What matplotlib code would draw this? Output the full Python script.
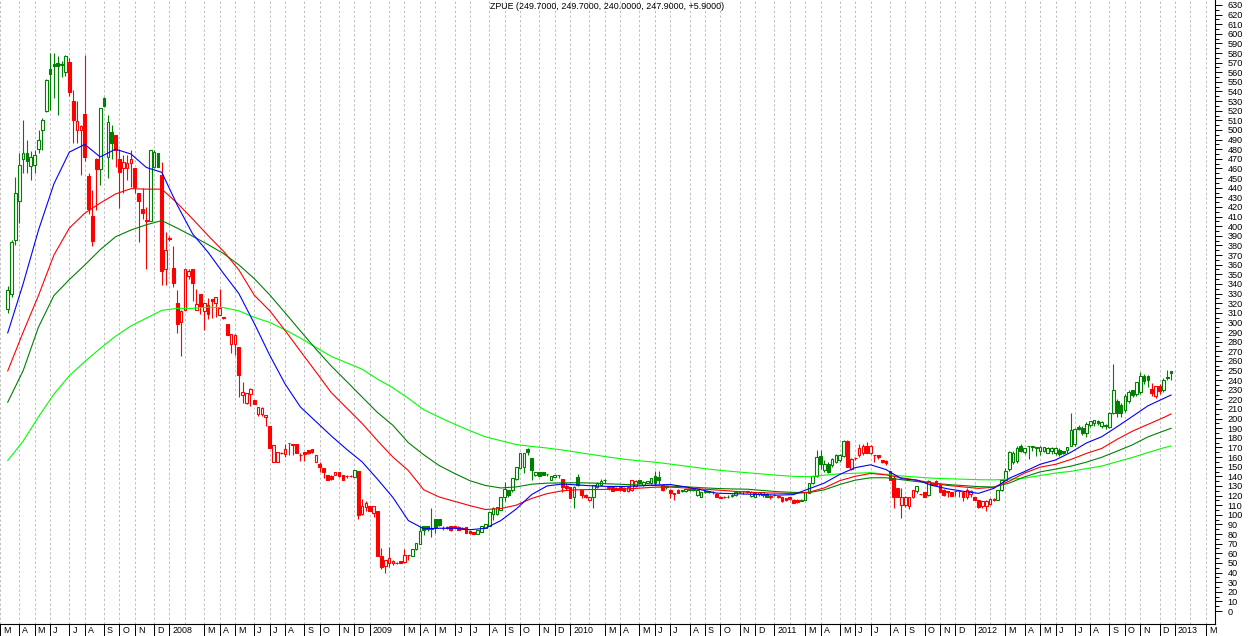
import datetime as dt
import numpy as np
import matplotlib
matplotlib.use("Agg")
import matplotlib.pyplot as plt

# weekly bars (AmiBroker style: x axis = bar number), first bar Friday 2007-03-16
first_bar = dt.date(2007, 3, 16)
ticker = "ZPUE"

opens = [314, 330, 386, 426, 470, 476, 463, 464, 480, 500, 520, 563, 569, 570, 569, 560, 571, 530, 500, 500,
         517, 452, 411, 470, 459, 533, 472, 498, 495, 470, 460, 460, 466, 460, 434, 418, 406, 405, 461, 476,
         453, 355, 388, 357, 320, 300, 313, 348, 355, 313, 330, 312, 318, 324, 320, 308, 306, 298, 278, 278,
         274, 225, 216, 226, 219, 205, 205, 202, 192, 155, 155, 164, 163, 175, 174, 174, 162, 165, 167, 168,
         155, 153, 149, 141, 140, 141, 145, 141, 140, 140, 139, 146, 101, 108, 109, 102, 104, 57, 47, 50,
         50, 50, 52, 51, 58, 57, 64, 70, 88, 88, 85, 96, 96, 86, 87, 88, 88, 87, 86, 87,
         83, 82, 80, 82, 86, 88, 101, 101, 105, 119, 126, 126, 137, 149, 150, 168, 159, 141, 145, 145,
         142, 136, 139, 141, 137, 130, 129, 119, 139, 126, 121, 115, 118, 129, 131, 136.5, 129, 129, 128, 129,
         128, 125, 126, 130, 136, 131, 133, 133, 140, 139, 131, 129, 126, 123, 126, 126, 125, 126, 127, 121,
         119, 124, 124, 124, 122, 119, 118, 119, 120, 121, 124, 125, 124, 120, 119, 122, 121, 122, 119, 121,
         120, 118, 117, 118, 115, 115, 115, 115, 123, 133, 140, 161, 147, 153, 152, 155, 157, 161, 177, 148,
         159, 162, 164, 172, 164, 162, 162, 157, 156, 146, 138, 128, 110, 110, 109, 119, 125, 122, 124, 121,
         133, 135, 131, 126, 125, 124, 125, 125, 124, 118, 122, 119, 115, 109, 109, 111, 116, 115, 126, 136,
         148, 155, 156, 172, 165, 171, 172, 170, 166, 166, 164, 166, 164, 167, 166, 167, 171, 174, 191, 190,
         185, 193, 195, 198, 192, 193, 191, 206, 218, 214, 209, 218, 230, 226, 228, 244, 244, 231, 224, 234,
         230, 243, 249.7]
highs = [338, 386, 451, 476, 510, 490, 478, 479, 500, 512, 553, 580, 580, 577, 572, 578, 575, 542, 530, 505,
         578, 455, 438, 471, 523, 534, 516, 505, 495, 480, 474, 474, 479, 460, 434, 440, 420, 479, 479, 476,
         467, 394, 390, 379, 334, 313, 355, 355, 355, 335, 330, 320, 325, 324, 326, 335, 306, 298, 288, 288,
         274, 238, 227, 232, 219, 212, 212, 204, 192, 173, 165, 165, 174, 175, 174, 174, 164, 165, 167, 168,
         162, 155, 149, 141, 141, 145, 145, 141, 141, 141, 147, 146, 116, 114, 109, 109, 104, 65, 53, 67,
         53, 51, 52, 64, 58, 64, 71, 88, 88, 88, 107, 96, 96, 88, 88, 88, 88, 88, 87, 87,
         83, 82, 84, 88, 90, 103, 108, 108, 119, 134, 126, 138, 150, 164, 164, 169, 159, 145, 145, 145,
         142, 140, 141, 141, 137, 133, 129, 130, 142, 126, 122, 119, 131, 134, 137, 137, 130, 130, 129, 129,
         129, 130, 136, 136, 136, 135, 135, 138, 146, 146, 131, 131, 127, 123, 127, 126, 127, 127, 127, 126,
         124, 126, 125, 125, 122, 120, 120, 121, 122, 124, 125, 125, 125, 125, 124, 124, 124, 123, 121, 122,
         121, 118, 117, 119, 116, 116, 116, 124, 133, 140, 167, 167, 157, 155, 159, 163, 163, 178, 178, 159,
         160, 174, 174, 176, 173, 162, 162, 157, 157, 146, 140, 128, 128, 120, 119, 126, 130, 122, 124, 136,
         133, 136, 132, 127, 125, 124, 125, 125, 124, 128, 126, 119, 115, 114, 115, 117, 117, 126, 136, 149,
         166, 166, 172, 174, 169, 171, 172, 170, 171, 170, 170, 170, 170, 169, 166, 170, 206, 190, 193, 192,
         196, 198, 199, 199, 197, 194, 207, 257, 220, 216, 226, 230, 230, 238, 248, 246, 245, 237, 234, 236,
         242, 250, 249.7]
lows = [310, 326, 380, 403, 455, 455, 448, 455, 476, 479, 519, 521, 533, 516, 555, 556, 535, 486, 486, 453,
        468, 413, 379, 417, 443, 524, 450, 470, 462, 419, 435, 448, 441, 434, 384, 407, 356, 405, 460, 462,
        339, 339, 385, 337, 289, 265, 313, 345, 322, 313, 309, 292, 304, 305, 306, 308, 304, 287, 268, 266,
        222, 216, 215, 213, 215, 203, 203, 192, 169, 155, 155, 163, 160, 162, 162, 164, 156, 156, 163, 164,
        155, 144, 138, 136, 136, 141, 139, 136, 138, 139, 139, 96, 100, 104, 104, 98, 57, 44, 40, 46,
        48, 49, 50, 50, 53, 57, 63, 70, 79, 83, 77, 81, 88, 84, 85, 83, 86, 84, 85, 81,
        80, 80, 80, 82, 86, 88, 95, 100, 105, 114, 119, 124, 136, 149, 143, 162, 136, 140, 140, 141,
        140, 136, 139, 138, 124, 126, 117, 107, 130, 117, 117, 114, 107, 128, 130, 133, 126, 125, 126, 125,
        125, 124, 125, 129, 132, 130, 133, 132, 131, 132, 125, 127, 117, 115, 123, 124, 124, 125, 125, 120,
        118, 123, 123, 122, 118, 117, 117, 117, 119, 120, 123, 122, 123, 119, 118, 120, 119, 118, 116, 120,
        117, 113, 114, 115, 112, 112, 114, 115, 123, 132, 139, 148, 145, 143, 150, 154, 155, 160, 150, 147,
        157, 160, 162, 164, 163, 155, 158, 154, 152, 136, 107, 119, 97, 108, 106, 117, 123, 121, 118, 120,
        131, 131, 124, 120, 119, 121, 120, 119, 114, 116, 119, 115, 107, 107, 104, 110, 114, 115, 125, 136,
        146, 153, 154, 165, 163, 158, 166, 161, 162, 165, 164, 163, 162, 161, 163, 164, 171, 171, 188, 183,
        181, 191, 192, 193, 190, 189, 190, 205, 202, 202, 207, 216, 222, 224, 226, 236, 233, 224, 221, 226,
        228, 240, 240]
closes = [334, 384, 434, 464, 476, 468, 472, 474, 490, 510, 552, 558, 566, 567, 568, 577, 539, 510, 509, 504,
          472, 418, 385, 459, 523, 525, 508, 486, 479, 456, 467, 466, 470, 441, 426, 414, 405, 479, 477, 462,
          353, 375, 387, 341, 298, 312, 355, 353, 341, 319, 317, 320, 309, 322, 326, 315, 305, 287, 288, 287,
          245, 228, 227, 231, 215, 212, 211, 204, 169, 173, 165, 164, 168, 175, 173, 164, 162, 163, 164, 165,
          162, 150, 145, 136, 137, 145, 140, 136, 140, 140, 147, 100, 109, 112, 104, 109, 57, 46, 53, 55,
          52, 50, 50, 58, 58, 64, 71, 83, 84, 85, 86, 87, 89, 86, 86, 84, 87, 84, 85, 81,
          81, 80, 84, 88, 90, 103, 107, 108, 119, 127, 121, 138, 150, 164, 164, 165, 147, 145, 140, 141,
          142, 140, 141, 141, 129, 128, 117, 129, 131, 121, 119, 118, 131, 133, 135, 136, 128, 125, 126, 126,
          125, 129, 136, 135, 133, 134, 135, 138, 133, 136, 126, 130, 123, 122, 123, 125, 127, 127, 126, 126,
          124, 125, 125, 124, 118, 117, 118, 118, 121, 124, 124, 124.5, 125, 124, 123, 123.5, 124, 119, 120, 120.5,
          119, 114, 115, 116, 112, 113, 114, 124, 133, 140, 160, 153, 153, 145, 158, 162, 162, 177, 150, 158,
          159, 169, 172, 164, 172, 162, 160, 155, 154, 136, 119, 119, 119, 118, 118, 125.5, 130, 121.6, 119, 135,
          131, 131, 124, 121, 124, 120, 125, 125, 119, 126, 125, 115, 108, 114, 114, 116, 115, 126, 136, 146,
          165, 164, 169, 166, 169, 171, 170, 169, 170, 170, 169, 169, 169, 163, 164, 170, 188, 189, 189.5, 185,
          194, 197, 198.5, 195, 196, 192, 206, 230, 206, 206, 224, 228, 225, 238, 244, 239, 240, 227, 234, 229,
          240, 242, 247.9]
last_change = 5.9

# candle colour as shown on the chart (G = up signal, R = down signal), one letter per bar
signal = ("GGGGGGGGGGGGGGGG" "RRRRRRRR" "GGGG" "RRRRRRRRR" "GGG"
          "RRRRRRRRRRRRRRRRRRRRRRRRRRRRRRRRRRRRRRRRRRRRRRRRRR" "G" "RRRRRRRRRRRRRR"
          "GGGGGGGG" "RRRRRRRRR" "GGGGGGGGGGGGGGGGGGGGGG" "RRR" "GG" "RRR" "GGGG"
          "RRRRRRRR" "GGGGGG" "R" "G" "RRR" "GGGGGGGG" "RRRR" "GGGGGGGGGGG" "R" "G"
          "RRRRRR" "GGGGGGGGGGGG" "RRRRRRRRRRRRRRRRRR" "G" "RR" "G" "RRRRRRRRRRRRRRRRR"
          "GGGGGGGGGGGGGGGGGGGGGGGGGGGGGGGGGGGGGGGG" "RRR" "GGG")

ma_bars = list(range(0, 301, 4)) + [302]
ma_blue = [289, 340, 396, 444, 477, 485, 472, 480, 475, 461, 456, 422, 392, 373, 351, 330, 299, 266, 236, 212,
           197, 182, 168, 155, 137, 118, 94, 85.5, 86, 86, 84.5, 86, 94, 106, 121, 130, 132, 131, 130, 129.5,
           129.5, 130, 131, 131.5, 129, 126, 122.5, 122, 121.5, 121, 120.5, 121, 127, 133, 142, 149, 152, 147, 137.5, 136,
           130.5, 127, 124.5, 122.3, 127.5, 138, 145, 152.5, 157, 165, 174.6, 181.2, 191.6, 202.4, 213.3, 220.8, 224.5]
ma_red = [249.5, 289.7, 328, 370, 398, 413.5, 424, 433.5, 439, 438.5, 438.5, 424, 407.5, 390.3, 374, 354.6, 328.3, 312.2, 291.6, 270,
          248.6, 227, 211, 195, 177, 160, 146, 126, 118.5, 114, 109.5, 105.5, 106.5, 110, 117, 122, 125, 126, 126.3, 126.4,
          126.8, 127.7, 128.7, 128.8, 127.9, 126.8, 125.8, 124.6, 123.5, 122.8, 122.5, 122, 123.5, 128, 135.5, 140, 143, 141.5, 138.5, 136,
          133, 130.5, 129, 127.5, 128.6, 135, 143.5, 149.5, 152.5, 157.5, 163.8, 169, 178.5, 187, 194, 201, 204.8]
ma_dkgreen = [217, 249.7, 295.2, 327.9, 344.5, 359.6, 375.5, 389, 396, 401.5, 405.8, 398, 389.6, 380.9, 371.6, 359.8, 345.5, 328.7, 310, 291,
              272.3, 254.6, 238.6, 222.4, 206.3, 193, 175, 162.4, 151.2, 143, 135.4, 130.5, 127.9, 129, 131.8, 132.9, 133.2, 133.3, 133, 132.2,
              131.6, 131, 130.4, 129.7, 129.2, 128.2, 127.4, 126.9, 126.6, 125.3, 124, 123.3, 123, 126, 131.5, 136, 138.5, 138.5, 136.5, 134.5,
              133, 131.5, 130.4, 129.3, 128.9, 133, 139.5, 144.6, 147.5, 150.6, 154.7, 159.8, 166.2, 172.8, 181, 187, 189.9]
ma_ltgreen = [156.4, 176.5, 201.9, 225.5, 244.6, 259.3, 272.9, 285.6, 296.4, 304.4, 312.5, 314.6, 314.6, 315.9, 315.4, 312, 305.2, 300, 292.3, 283.6,
              274, 264.6, 258, 251.3, 241, 232, 221, 209.3, 201.5, 194.2, 187.4, 181, 177, 173, 171.1, 169.4, 167.3, 164.9, 162.4, 160,
              157.8, 156.1, 154.7, 152.7, 150.6, 148.5, 146.6, 145.1, 143.7, 142.4, 141, 140, 139.5, 141.2, 142.6, 143.2, 143.8, 142, 140.4, 139.2,
              138.1, 137.5, 137, 136.5, 136.3, 137, 138.2, 140.8, 143.4, 145.2, 148, 150.7, 155.2, 159.7, 164.7, 169.6, 171.5]

GREEN = "#008000"
RED = "#ff0000"

o = np.array(opens, float)
h = np.array(highs, float)
l = np.array(lows, float)
c = np.array(closes, float)
idx = np.arange(len(c))

col = np.array([GREEN if s == "G" else RED for s in signal])
face = np.where(c > o, "white", col)   # hollow body when close > open

plt.rcParams["font.family"] = ["Liberation Sans", "DejaVu Sans"]
fig = plt.figure(figsize=(12.5, 6.36), dpi=100)
ax = fig.add_axes([0, 12 / 636, 1215 / 1250, 624 / 636])

ax.vlines(idx, l, h, colors=col, lw=0.8, zorder=3)
ax.bar(idx, np.maximum(np.abs(c - o), 0.01), bottom=np.minimum(o, c), width=0.7,
       color=face, edgecolor=col, linewidth=0.8, zorder=4)

ax.plot(ma_bars, ma_ltgreen, color="#00ff00", lw=0.8, zorder=5)
ax.plot(ma_bars, ma_dkgreen, color="#008000", lw=0.8, zorder=5)
ax.plot(ma_bars, ma_red, color="#ff0000", lw=0.8, zorder=5)
ax.plot(ma_bars, ma_blue, color="#0000ff", lw=0.8, zorder=5)

ax.set_xlim(-0.44, 313.4)
ax.set_ylim(-13.5, 635.1)

# month positions = first weekly bar of each month
letters = "JFMAMJJASOND"
all_pos, lab_pos, lab_txt = [], [], []
for year in range(2007, 2014):
    for m in range(1, 13):
        if (year, m) < (2007, 3) or (year, m) > (2013, 3):
            continue
        k = (dt.date(year, m, 1) - first_bar).days
        b = -(-k // 7)
        all_pos.append(b)
        if m == 2:
            continue
        lab_pos.append(b)
        lab_txt.append(str(year) if m == 1 else letters[m - 1])

ax.xaxis.remove_overlapping_locs = False
ax.set_xticks(all_pos, minor=True)
ax.set_xticks(lab_pos)
ax.tick_params(axis="x", which="major", direction="out", length=8.6, width=0.7, labelbottom=False)
ax.tick_params(axis="x", which="minor", length=0)
ax.xaxis.grid(True, which="minor", color="#bdbdbd", linestyle=(0, (2.4, 2.4)), lw=0.7)
for p, t in zip(lab_pos, lab_txt):
    ax.annotate(t, xy=(p, 0), xycoords=("data", "axes fraction"), xytext=(3, -6.5),
                textcoords="offset pixels", ha="left", va="center", fontsize=6.4,
                annotation_clip=False)

ax.yaxis.tick_right()
ax.set_yticks(np.arange(0, 631, 10))
ax.set_yticks(np.arange(5, 631, 10), minor=True)
ax.tick_params(axis="y", which="major", direction="out", length=5, width=0.7, pad=4, labelsize=6.6)
ax.tick_params(axis="y", which="minor", direction="out", length=3, width=0.7)

for s in ("top", "left"):
    ax.spines[s].set_visible(False)
for s in ("right", "bottom"):
    ax.spines[s].set_linewidth(0.8)

title = "%s (%.4f, %.4f, %.4f, %.4f, %+.4f)" % (ticker, opens[-1], highs[-1], lows[-1], closes[-1], last_change)
ax.text(0.5, 1 - 6.5 / 624, title, transform=ax.transAxes, ha="center", va="center", fontsize=6.4)

fig.savefig("out.png", dpi=100)
